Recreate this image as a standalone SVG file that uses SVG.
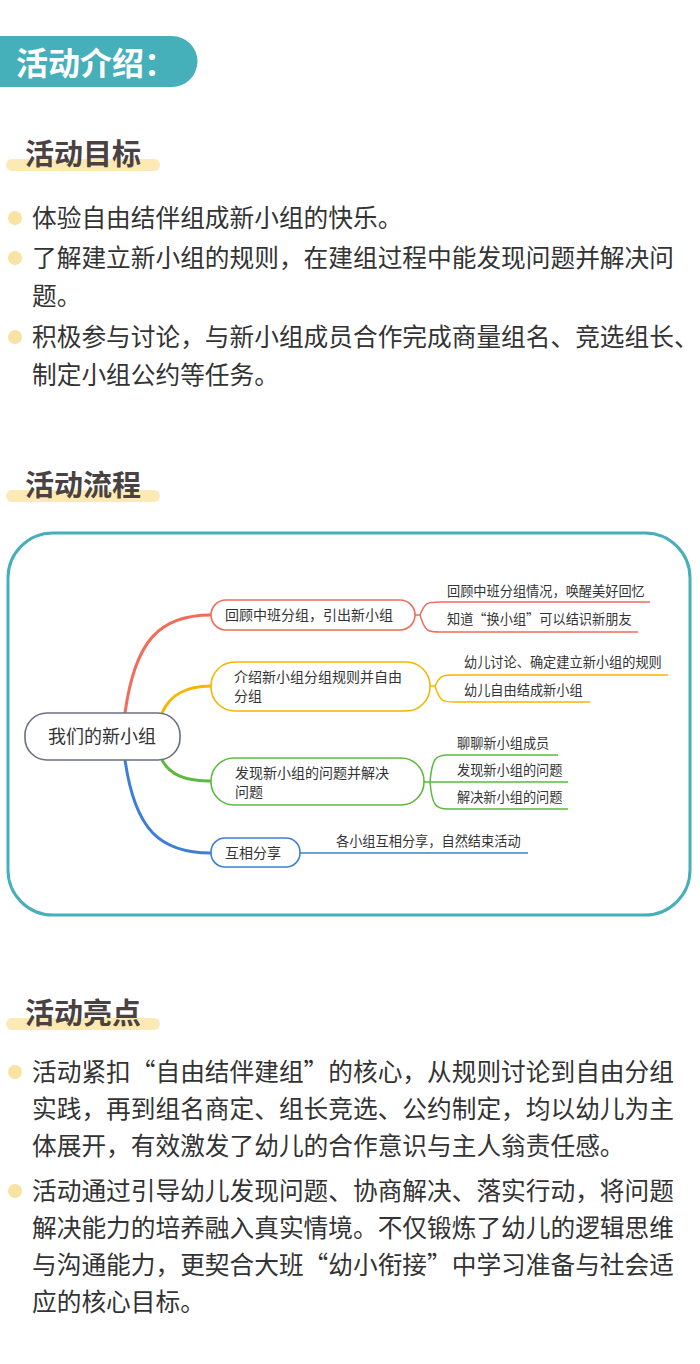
<svg xmlns="http://www.w3.org/2000/svg" width="700" height="1364" viewBox="0 0 700 1364">
<style>
.h{font-family:"Noto Sans CJK SC",sans-serif;font-weight:bold;font-size:29px;fill:#4a4242}
.bar{fill:#fde9b3}
.b{font-family:"Noto Sans CJK SC",sans-serif;font-size:24.7px;fill:#333}
.dot{fill:#f9e3a3}
.t{font-family:"Noto Sans CJK SC",sans-serif;font-size:14px;fill:#333}
.s{font-family:"Noto Sans CJK SC",sans-serif;font-size:13.2px;fill:#333}
.n{fill:#fff;stroke-width:1.6}
.c{fill:none}
</style>
<rect width="700" height="1364" fill="#fff"/>
<path d="M0 36H172A25.5 25.5 0 0 1 172 87H0Z" fill="#45b0b9"/>
<text x="16" y="75" font-family="Noto Sans CJK SC,sans-serif" font-weight="bold" font-size="32" fill="#fff">活动介绍：</text>

<rect class="bar" x="6" y="159" width="154" height="12" rx="6"/>
<text class="h" x="25" y="165">活动目标</text>
<circle class="dot" cx="15" cy="218" r="7"/>
<text class="b" x="32" y="227">体验自由结伴组成新小组的快乐。</text>
<circle class="dot" cx="15" cy="258" r="7"/>
<text class="b" x="32" y="267">了解建立新小组的规则，在建组过程中能发现问题并解决问</text>
<text class="b" x="32" y="305">题。</text>
<circle class="dot" cx="15" cy="337" r="7"/>
<text class="b" x="32" y="346">积极参与讨论，与新小组成员合作完成商量组名、竞选组长、</text>
<text class="b" x="32" y="384">制定小组公约等任务。</text>

<rect class="bar" x="6" y="490" width="154" height="12" rx="6"/>
<text class="h" x="25" y="496">活动流程</text>

<rect x="8" y="533" width="682" height="382" rx="45" fill="#fff" stroke="#45b0b9" stroke-width="3"/>

<g id="connectors" class="c">
<path class="c" d="M125 713C135 640 160 615 211 615" stroke="#f26b5b" stroke-width="3"/>
<path class="c" d="M162 713C170 695 185 686 211 686" stroke="#f7b500" stroke-width="3"/>
<path class="c" d="M162 760C170 775 185 781 211 781" stroke="#5bba3c" stroke-width="3"/>
<path class="c" d="M125 760C135 830 160 853 211 853" stroke="#3d7fd6" stroke-width="3"/>
<path class="c" d="M415 615H420C425 602 428 602 440 602H650M420 615C425 632 428 632 440 632H638" stroke="#f26b5b" stroke-width="1.5"/>
<path class="c" d="M430 686H435C440 675 443 675 455 675H668M435 686C440 702 443 702 455 702H590" stroke="#f7b500" stroke-width="1.5"/>
<path class="c" d="M424 782H430C432 758 436 755 448 755H558M430 782H568M430 782C432 806 436 809 448 809H568" stroke="#5bba3c" stroke-width="1.5"/>
<path class="c" d="M300 853H528" stroke="#3d7fd6" stroke-width="1.5"/>
</g>

<g id="root"><rect class="n" x="25" y="713" width="155" height="47" rx="22" stroke="#6b7080"/><text x="102" y="743" text-anchor="middle" font-family="Noto Sans CJK SC,sans-serif" font-size="18" fill="#333">我们的新小组</text></g>
<g id="b1"><rect class="n" x="211" y="600" width="204" height="30" rx="15" stroke="#f26b5b"/><text class="t" x="225" y="620">回顾中班分组，引出新小组</text></g>
<g id="b2"><rect class="n" x="211" y="662" width="219" height="49" rx="24" stroke="#f7b500"/><text class="t" x="234" y="682">介绍新小组分组规则并自由</text><text class="t" x="234" y="701">分组</text></g>
<g id="b3"><rect class="n" x="211" y="758" width="213" height="47" rx="23" stroke="#5bba3c"/><text class="t" x="235" y="778">发现新小组的问题并解决</text><text class="t" x="235" y="797">问题</text></g>
<g id="b4"><rect class="n" x="211" y="838" width="89" height="29" rx="14" stroke="#3d7fd6"/><text class="t" x="225" y="858">互相分享</text></g>
<g id="leaves">
<text class="s" x="447" y="596">回顾中班分组情况，唤醒美好回忆</text>
<text class="s" x="447" y="624">知道“换小组”可以结识新朋友</text>
<text class="s" x="464" y="667">幼儿讨论、确定建立新小组的规则</text>
<text class="s" x="464" y="695">幼儿自由结成新小组</text>
<text class="s" x="457" y="748">聊聊新小组成员</text>
<text class="s" x="457" y="775">发现新小组的问题</text>
<text class="s" x="457" y="802">解决新小组的问题</text>
<text class="s" x="336" y="846">各小组互相分享，自然结束活动</text>
</g>

<rect class="bar" x="6" y="1018" width="154" height="12" rx="6"/>
<text class="h" x="25" y="1024">活动亮点</text>
<circle class="dot" cx="15" cy="1072" r="7"/>
<text class="b" x="32" y="1081">活动紧扣“自由结伴建组”的核心，从规则讨论到自由分组</text>
<text class="b" x="32" y="1118">实践，再到组名商定、组长竞选、公约制定，均以幼儿为主</text>
<text class="b" x="32" y="1155">体展开，有效激发了幼儿的合作意识与主人翁责任感。</text>
<circle class="dot" cx="15" cy="1191" r="7"/>
<text class="b" x="32" y="1200">活动通过引导幼儿发现问题、协商解决、落实行动，将问题</text>
<text class="b" x="32" y="1237">解决能力的培养融入真实情境。不仅锻炼了幼儿的逻辑思维</text>
<text class="b" x="32" y="1274">与沟通能力，更契合大班“幼小衔接”中学习准备与社会适</text>
<text class="b" x="32" y="1311">应的核心目标。</text>
</svg>
